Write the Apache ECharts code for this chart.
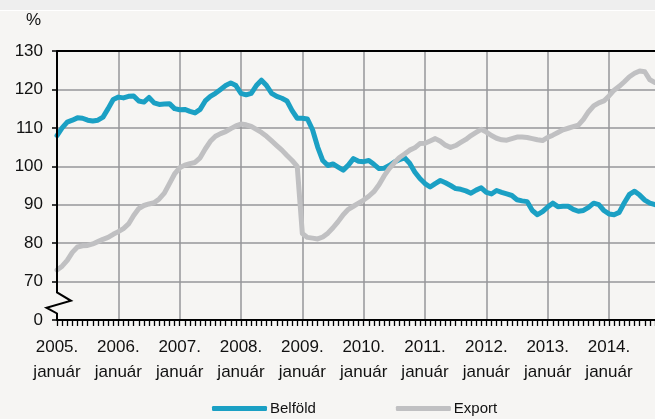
<!DOCTYPE html>
<html>
<head>
<meta charset="utf-8">
<script src="https://cdn.jsdelivr.net/npm/echarts@6/dist/echarts.min.js"></script>
<style>
  html, body { margin: 0; padding: 0; background: #efefef; }
  #main { width: 655px; height: 419px; }
</style>
</head>
<body>
<div id="main"></div>
<script>
// havi adatok, 2005. január - 2014. október
var years = [2005, 2006, 2007, 2008, 2009, 2010, 2011, 2012, 2013, 2014];
var monthCount = 118;

var belfold = [
  108, 110, 111.5, 112, 112.6, 112.5, 112, 111.8, 112, 112.8, 115, 117.4,
  118, 117.8, 118.2, 118.3, 117, 116.7, 117.9, 116.5, 116.1, 116.2, 116.3, 115,
  114.7, 114.8, 114.3, 113.9, 114.8, 117, 118.2, 119, 120, 121, 121.7, 121,
  119, 118.6, 119, 121, 122.4, 121, 119, 118.2, 117.7, 117, 114.5, 112.5,
  112.5, 112.3, 109.5, 105, 101.5, 100.2, 100.6, 99.8, 99, 100.3, 102, 101.3,
  101.2, 101.5, 100.5, 99.4, 99.5, 100.2, 101.1, 101.7, 102.2, 100.8, 98.5, 96.8,
  95.5, 94.6, 95.5, 96.3, 95.7, 95, 94.2, 94, 93.6, 93, 93.8, 94.4,
  93.2, 92.8, 93.7, 93.2, 92.8, 92.4, 91.3, 91, 90.8, 88.5, 87.4, 88.2,
  89.4, 90.4, 89.5, 89.6, 89.6, 88.8, 88.3, 88.5, 89.3, 90.4, 90, 88.5,
  87.6, 87.4, 88, 90.5, 92.7, 93.5, 92.5, 91.2, 90.4, 90
];

var exportData = [
  73, 74, 75.5, 77.6, 79, 79.3, 79.4, 79.8, 80.4, 81, 81.5, 82.3,
  83, 83.8, 85, 87.2, 89, 89.8, 90.2, 90.5, 91.5, 93, 95.5, 98,
  99.6, 100.3, 100.7, 101, 102.2, 104.5, 106.5, 107.8, 108.5, 109, 109.8, 110.5,
  111, 110.8, 110.4, 109.6, 108.8, 107.8, 106.6, 105.4, 104.2, 102.8, 101.5, 100,
  82.5, 81.5, 81.3, 81.1, 81.6, 82.6, 84, 85.6, 87.4, 88.8, 89.6, 90.4,
  91.2, 92.2, 93.4, 95.2, 97.5, 99.4, 100.9, 102.3, 103.2, 104.2, 104.8, 105.9,
  106, 106.6, 107.2, 106.5, 105.5, 104.9, 105.4, 106.2, 107, 108, 108.8, 109.6,
  108.9, 108, 107.3, 106.9, 106.8, 107.2, 107.6, 107.6, 107.5, 107.2, 106.9, 106.7,
  107.5, 108.1, 108.8, 109.5, 109.9, 110.3, 110.7, 112.2, 114.2, 115.7, 116.5, 117,
  118.3, 119.8, 120.8, 122, 123.3, 124.2, 124.8, 124.6, 122.5, 121.8
];

var yTicks = [60, 70, 80, 90, 100, 110, 120, 130]; // 60 = megszakított tengely alja ("0")

var categories = [];
for (var i = 0; i < monthCount; i++) {
  var y = years[Math.floor(i / 12)];
  var m = (i % 12) + 1;
  categories.push(y + '-' + (m < 10 ? '0' + m : m));
}

var chart = echarts.init(document.getElementById('main'));
var font = 'Liberation Sans, Arial, sans-serif';

var option = {
  animation: false,
  backgroundColor: '#f6f5f3',
  color: ['#1ba0c4', '#c0c0c2'],
  title: {
    text: '%',
    left: 26,
    top: 12,
    padding: 0,
    textStyle: { fontFamily: font, fontSize: 17, fontWeight: 'normal', color: '#111' }
  },
  legend: {
    left: 207,
    top: 396,
    itemWidth: 55,
    itemHeight: 5,
    itemGap: 80,
    icon: 'roundRect',
    textStyle: { fontFamily: font, fontSize: 15, color: '#111', padding: [0, 0, 0, -2] },
    data: ['Belföld', 'Export']
  },
  grid: { left: 57, top: 51, width: 599, bottom: 99 },
  xAxis: [{
    type: 'category',
    data: categories,
    boundaryGap: false,
    axisLine: { lineStyle: { color: '#000', width: 2 } },
    axisTick: { show: true, interval: 0, length: 6, lineStyle: { color: '#000', width: 1.3 } },
    axisLabel: {
      interval: function (i) { return i % 12 === 0; },
      formatter: function (v) { return v.slice(0, 4) + '.\njanuár'; },
      margin: 15,
      lineHeight: 25,
      fontFamily: font,
      fontSize: 17,
      color: '#111'
    },
    splitLine: {
      show: true,
      interval: function (i) { return i > 0 && i % 12 === 0; },
      lineStyle: { color: '#96969a', width: 1.5 }
    }
  }, {
    type: 'category',
    data: categories,
    position: 'top',
    boundaryGap: false,
    axisLine: { lineStyle: { color: '#000', width: 2 } },
    axisTick: { show: false },
    axisLabel: { show: false },
    splitLine: { show: false }
  }],
  yAxis: {
    type: 'value',
    min: yTicks[0],
    max: yTicks[yTicks.length - 1],
    interval: 10,
    axisLine: { show: false },
    axisTick: { show: true, length: 5, lineStyle: { color: '#000', width: 1.5 } },
    axisLabel: {
      margin: 14,
      fontFamily: font,
      fontSize: 17,
      color: '#111',
      formatter: function (v) { return v === yTicks[0] ? '0' : String(v); }
    },
    splitLine: { lineStyle: { color: '#96969a', width: 1.5 } }
  },
  series: [{
    name: 'Belföld',
    type: 'line',
    data: belfold,
    showSymbol: false,
    lineStyle: { width: 5, cap: 'round', join: 'round' }
  }, {
    name: 'Export',
    type: 'line',
    data: exportData,
    showSymbol: false,
    lineStyle: { width: 5, cap: 'round', join: 'round' }
  }]
};

chart.setOption(option);

// tengelytörés (cikcakk) az y tengelyen 70 és 0 között
var x0 = chart.convertToPixel({ xAxisIndex: 0 }, 0);
function py(v) { return chart.convertToPixel({ yAxisIndex: 0 }, v); }
chart.setOption({
  graphic: [{
    type: 'rect',
    shape: { x: 0, y: 0, width: 655, height: 10 },
    style: { fill: '#eeeeee' },
    silent: true
  }, {
    type: 'rect',
    shape: { x: 0, y: 10, width: 655, height: 1 },
    style: { fill: '#ffffff' },
    silent: true
  }, {
    type: 'polyline',
    shape: {
      points: [
        [x0, py(130)],
        [x0, py(67.2)],
        [x0 + 14, py(65)],
        [x0 - 10.5, py(63.2)],
        [x0, py(61.7)],
        [x0, py(60)]
      ]
    },
    style: { stroke: '#000', lineWidth: 2, fill: null },
    z: 10,
    silent: true
  }]
});
</script>
</body>
</html>
